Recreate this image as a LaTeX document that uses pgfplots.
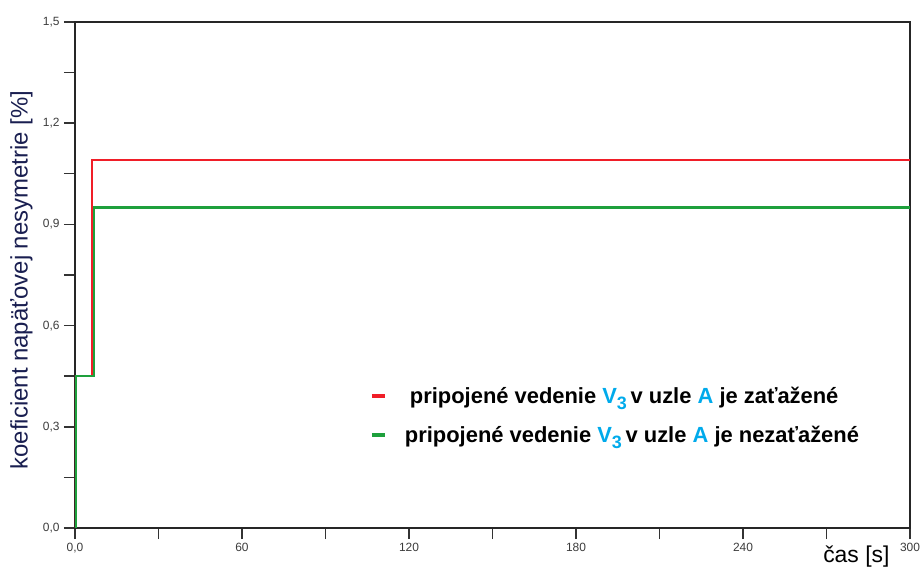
\documentclass[border=0pt]{standalone}
\usepackage{pgfplots}
\pgfplotsset{compat=1.18}
\usepackage{fontspec}
\setmainfont{Liberation Sans}
\definecolor{myred}{RGB}{240,30,40}
\definecolor{mygreen}{RGB}{30,160,60}
\definecolor{mycyan}{RGB}{0,170,235}
\definecolor{ylab}{RGB}{25,30,80}
\definecolor{tickc}{RGB}{60,60,60}
\newcommand{\Vsub}{\textcolor{mycyan}{V\raisebox{-6bp}{\fontsize{18}{18}\selectfont 3}}}
\begin{document}
\begin{tikzpicture}
\begin{axis}[
  scale only axis,
  width=835bp, height=506bp,
  xmin=0, xmax=300, ymin=0, ymax=1.5,
  axis line style={black!85, line width=1.8bp},
  xtick={0,60,...,300},
  xticklabels={{0,0},60,120,180,240,300},
  ytick={0,0.3,0.6,0.9,1.2,1.5},
  yticklabels={{0,0},{0,3},{0,6},{0,9},{1,2},{1,5}},
  minor x tick num=1, minor y tick num=1,
  xtick pos=bottom, ytick pos=left,
  tick align=outside,
  major tick length=11bp, minor tick length=11bp,
  every tick/.style={black!80, line width=1.4bp},
  tick label style={font=\fontsize{12}{12}\selectfont, text=tickc},
  xticklabel style={yshift=-1bp},
  yticklabel style={xshift=-1bp},
  ylabel={koeficient napäťovej nesymetrie [\%]},
  ylabel style={at={(axis description cs:-0.064,0.49)}, anchor=center, font=\fontsize{24}{24}\selectfont, text=ylab},
  xlabel={čas [s]},
  xlabel style={at={(axis description cs:1,0)}, anchor=base east, yshift=-34bp, xshift=-17bp, font=\fontsize{23}{23}\selectfont},
  legend style={at={(rel axis cs:0.3494,0.287)}, anchor=north west, draw=none, fill=none,
    font=\bfseries\fontsize{22}{22}\selectfont, row sep=17bp},
  legend cell align=left,
  legend image code/.code={\draw[line width=4bp] (0bp,0bp) -- (13bp,0bp);},
]
\addplot[draw=myred, line width=2.2bp] coordinates {(0,0) (0,0.45) (6.2,0.45) (6.2,1.09) (300,1.09)};
\addlegendentry{\hspace{21bp}pripojené vedenie \Vsub\,v uzle \textcolor{mycyan}{A} je zaťažené}
\addplot[draw=mygreen, line width=2.2bp] coordinates {(0.5,0) (0.5,0.45) (6.7,0.45) (6.7,0.95) (300,0.95)};
\addlegendentry{\hspace{16bp}pripojené vedenie \Vsub\,v uzle \textcolor{mycyan}{A} je nezaťažené}
\end{axis}
\pgfresetboundingbox
\path ([xshift=-75bp,yshift=-39bp]current axis.south west) rectangle ([xshift=13bp,yshift=22bp]current axis.north east);
\end{tikzpicture}
\end{document}
